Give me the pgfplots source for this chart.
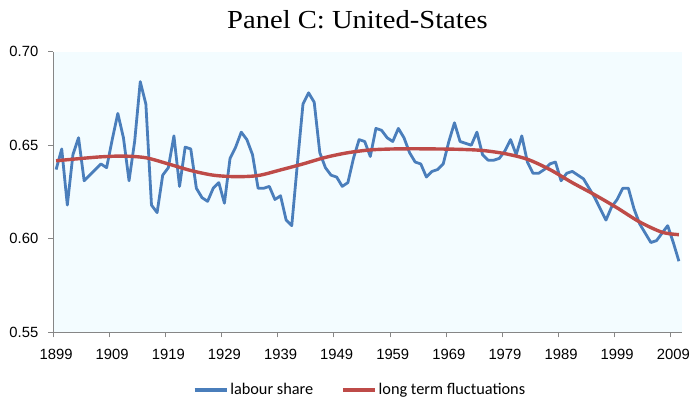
\documentclass[border=0pt]{standalone}
\usepackage{pgfplots}
\pgfplotsset{compat=1.18}
\usepackage{fontspec}
\setmainfont{Liberation Sans}
\newfontfamily\titlefont[FakeStretch=1.1]{Liberation Serif}
\newfontfamily\legfont{Carlito}
\definecolor{lsblue}{RGB}{74,126,187}
\definecolor{ltred}{RGB}{190,75,72}
\definecolor{bgcyan}{RGB}{243,252,255}
\definecolor{axgray}{RGB}{134,134,134}

\begin{document}
\begin{tikzpicture}
\useasboundingbox (-53.3bp,-67.7bp) rectangle (637.7bp,332.3bp);
\begin{axis}[
  at={(0,0)}, anchor=south west,
  scale only axis, width=628.4bp, height=280.6bp,
  xmin=1898.5, xmax=2010.5, ymin=0.55, ymax=0.70,
  axis x line*=bottom, axis y line*=left,
  axis line style={draw=axgray, line width=0.8bp, -},
  axis background/.style={fill=bgcyan},
  xtick={1898.5,1908.5,...,2008.5},
  xticklabels={1899,1909,1919,1929,1939,1949,1959,1969,1979,1989,1999,2009},
  ytick={0.55,0.60,0.65,0.70},
  /pgf/number format/fixed, /pgf/number format/fixed zerofill,
  /pgf/number format/precision=2, /pgf/number format/assume math mode=true,
  tick align=outside, major tick length=5bp,
  tick style={draw=axgray, line width=0.8bp},
  xticklabel style={font=\fontsize{14.8bp}{16bp}\selectfont, xshift=2.8bp, yshift=-8bp},
  yticklabel style={font=\fontsize{14.8bp}{16bp}\selectfont, xshift=-6.5bp},
  title={Panel C: United-States},
  title style={at={(0.484,1)}, anchor=base, yshift=17.6bp, font=\titlefont\fontsize{26bp}{28bp}\selectfont, inner sep=0pt},
  legend style={at={(0.488,-0.205)}, anchor=center, draw=none, fill=none,
    font=\legfont\fontsize{16.3bp}{18bp}\selectfont, legend columns=2,
    /tikz/every even column/.append style={column sep=26bp}},
  legend image code/.code={\draw[#1, line width=3.5bp] (0bp,0bp) -- (32bp,0bp);},
]
\addplot[lsblue, line width=2.8bp, line join=round] table {
x y
1899 0.637
1900 0.648
1901 0.618
1902 0.645
1903 0.654
1904 0.631
1905 0.634
1906 0.637
1907 0.640
1908 0.638
1909 0.653
1910 0.667
1911 0.654
1912 0.631
1913 0.652
1914 0.684
1915 0.672
1916 0.618
1917 0.614
1918 0.634
1919 0.638
1920 0.655
1921 0.628
1922 0.649
1923 0.648
1924 0.627
1925 0.622
1926 0.620
1927 0.627
1928 0.630
1929 0.619
1930 0.643
1931 0.649
1932 0.657
1933 0.653
1934 0.645
1935 0.627
1936 0.627
1937 0.628
1938 0.621
1939 0.623
1940 0.610
1941 0.607
1942 0.640
1943 0.672
1944 0.678
1945 0.673
1946 0.646
1947 0.638
1948 0.634
1949 0.633
1950 0.628
1951 0.630
1952 0.643
1953 0.653
1954 0.652
1955 0.644
1956 0.659
1957 0.658
1958 0.654
1959 0.652
1960 0.659
1961 0.654
1962 0.646
1963 0.641
1964 0.640
1965 0.633
1966 0.636
1967 0.637
1968 0.640
1969 0.652
1970 0.662
1971 0.652
1972 0.651
1973 0.650
1974 0.657
1975 0.645
1976 0.642
1977 0.642
1978 0.643
1979 0.647
1980 0.653
1981 0.645
1982 0.655
1983 0.641
1984 0.635
1985 0.635
1986 0.637
1987 0.640
1988 0.641
1989 0.631
1990 0.635
1991 0.636
1992 0.634
1993 0.632
1994 0.627
1995 0.622
1996 0.616
1997 0.610
1998 0.617
1999 0.621
2000 0.627
2001 0.627
2002 0.616
2003 0.608
2004 0.603
2005 0.598
2006 0.599
2007 0.603
2008 0.607
2009 0.598
2010 0.588
};
\addlegendentry{labour share}
\addplot[ltred, line width=3.4bp, smooth, line join=round] table {
x y
1899 0.6417
1903 0.6428
1907 0.6438
1911 0.6442
1915 0.6433
1919 0.6400
1923 0.6365
1927 0.6340
1931 0.6332
1935 0.6338
1939 0.6368
1943 0.6400
1947 0.6435
1951 0.6460
1955 0.6475
1959 0.6480
1963 0.6481
1967 0.6480
1971 0.6478
1975 0.6472
1979 0.6455
1983 0.6425
1987 0.6370
1991 0.6300
1995 0.6235
1999 0.6165
2003 0.6090
2007 0.6035
2010 0.6022
};
\addlegendentry{long term fluctuations}
\end{axis}
\end{tikzpicture}
\end{document}
